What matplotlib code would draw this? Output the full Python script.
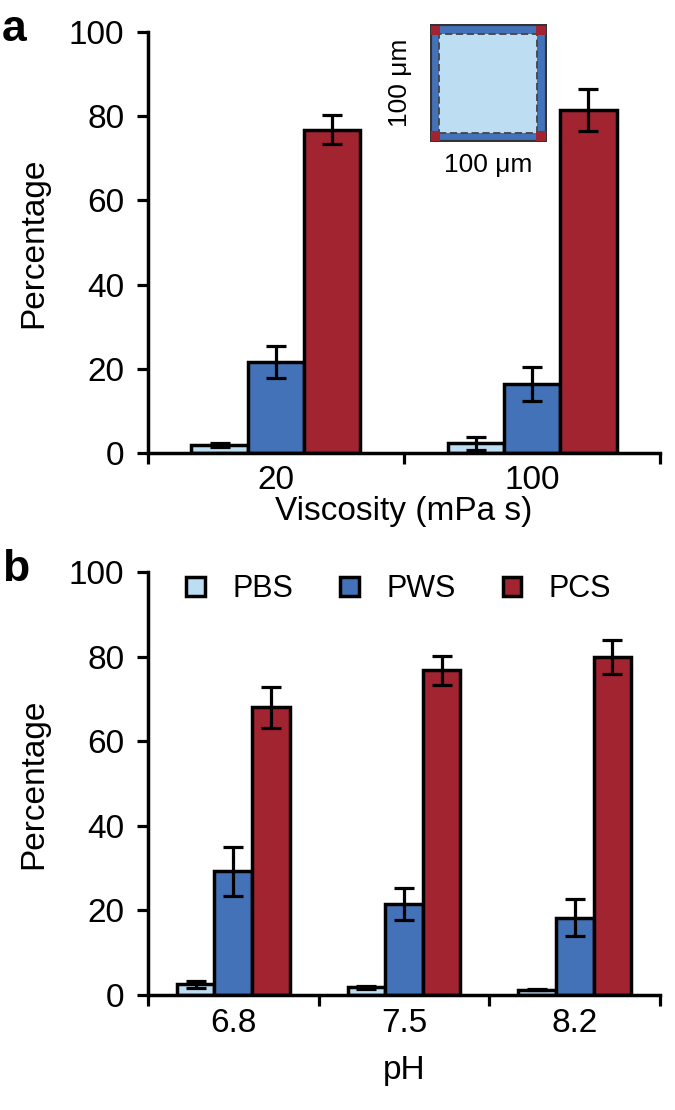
import matplotlib
matplotlib.use('Agg')
import matplotlib.pyplot as plt
from matplotlib.patches import Rectangle

plt.rcParams['font.family'] = ['Liberation Sans', 'DejaVu Sans']

series = ['PBS', 'PWS', 'PCS']
colors = ['#BDDDF3', '#4472B8', '#A22431']

# panel a: viscosity
visc_labels = ['20', '100']
visc_means = [[1.8, 2.3], [21.5, 16.3], [76.8, 81.5]]
visc_errs = [[0.5, 1.5], [3.8, 4.0], [3.4, 5.0]]

# panel b: pH
ph_labels = ['6.8', '7.5', '8.2']
ph_means = [[2.5, 1.8, 1.3], [29.3, 21.5, 18.3], [68.0, 76.8, 80.0]]
ph_errs = [[0.8, 0.4, 0.2], [5.8, 3.8, 4.3], [4.8, 3.4, 4.0]]

fig = plt.figure(figsize=(6.75, 11.1), dpi=100)
ax_a = fig.add_axes([0.219, 0.592, 0.759, 0.379])
ax_b = fig.add_axes([0.219, 0.1036, 0.759, 0.381])

w = 0.22


def draw(ax, labels, means, errs, xlabel, xpad):
    n = len(labels)
    bars = []
    for i, (m, e, c) in enumerate(zip(means, errs, colors)):
        xs = [k + (i - 1) * w for k in range(n)]
        b = ax.bar(xs, m, width=w, color=c, edgecolor='black', linewidth=2.5, zorder=2)
        ax.errorbar(xs, m, yerr=e, fmt='none', ecolor='black', elinewidth=2.3,
                    capsize=7, capthick=2.3, zorder=3)
        bars.append(b)
    ax.set_xlim(-0.5, n - 0.5)
    ax.set_ylim(0, 100)
    ax.set_yticks(range(0, 101, 20))
    ax.set_xticks([k - 0.5 for k in range(n + 1)])
    ax.set_xticklabels([])
    ax.set_xticks(range(n), minor=True)
    ax.set_xticklabels(labels, minor=True)
    ax.tick_params(axis='x', which='minor', length=0, pad=9, labelsize=24)
    ax.tick_params(axis='x', which='major', length=8, width=2.3, direction='out')
    ax.tick_params(axis='y', length=8, width=2.3, labelsize=24, pad=9)
    for s in ['top', 'right']:
        ax.spines[s].set_visible(False)
    for s in ['left', 'bottom']:
        ax.spines[s].set_linewidth(2.5)
    ax.set_ylabel('Percentage', fontsize=24, labelpad=14)
    ax.set_xlabel(xlabel, fontsize=24, labelpad=xpad)
    return bars


draw(ax_a, visc_labels, visc_means, visc_errs, 'Viscosity (mPa s)', 0)
bars = draw(ax_b, ph_labels, ph_means, ph_errs, 'pH', 12)

ax_b.legend(bars, series, loc='upper center', bbox_to_anchor=(0.49, 1.06), ncol=3,
            frameon=False, fontsize=22, handlelength=0.6, handleheight=0.6,
            columnspacing=1.55, handletextpad=0.9)

fig.text(0.003, 0.973, 'a', fontsize=32, fontweight='bold', va='center')
fig.text(0.003, 0.487, 'b', fontsize=32, fontweight='bold', va='center')

# inset schematic
ins = fig.add_axes([0.637, 0.872, 0.173, 0.106])
ins.set_xlim(0, 100)
ins.set_ylim(0, 100)
ins.axis('off')
ins.add_patch(Rectangle((0, 0), 100, 100, facecolor='#4472B8', edgecolor='#333333', linewidth=3))
ins.add_patch(Rectangle((8, 8), 84, 84, facecolor='#BDDDF3', edgecolor='#444444',
                        linewidth=1.3, linestyle=(0, (4, 2))))
for cx, cy in [(1, 1), (91, 1), (1, 91), (91, 91)]:
    ins.add_patch(Rectangle((cx, cy), 8, 8, facecolor='#A22431', edgecolor='none'))
fig.text(0.723, 0.851, '100 μm', fontsize=19, ha='center', va='center')
fig.text(0.593, 0.925, '100 μm', fontsize=19, ha='center', va='center', rotation=90)

fig.savefig('out.png', dpi=100)
